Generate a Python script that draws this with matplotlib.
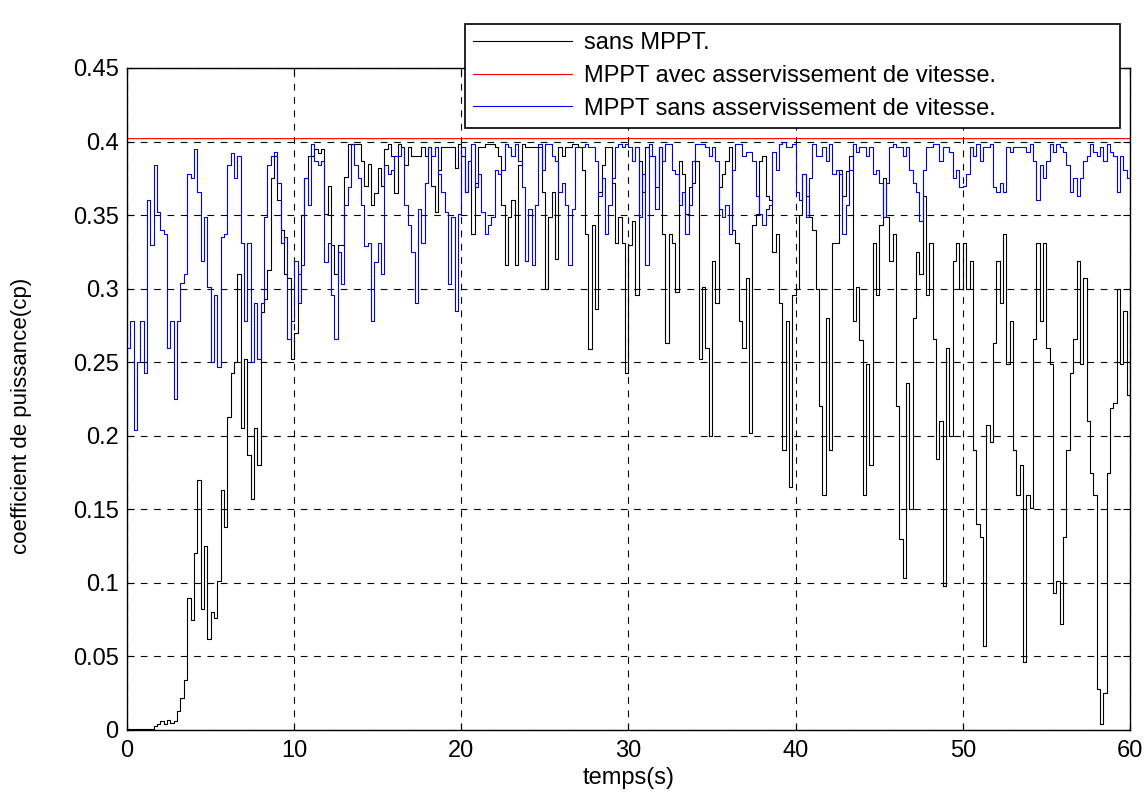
import numpy as np
import matplotlib
matplotlib.use("Agg")
import matplotlib.pyplot as plt
from matplotlib.ticker import FormatStrFormatter

# sampling step of the read-off values (s)
dt = 0.2

# cp without MPPT, one value every 0.2 s from t = 0 to 59.8 s
cp_sans_mppt = [
    # 0 - 10 s
    0.001, 0.001, 0.001, 0.001, 0.001, 0.001, 0.001, 0.001, 0.003, 0.004,
    0.006, 0.004, 0.007, 0.005, 0.006, 0.013, 0.022, 0.034, 0.090, 0.075,
    0.120, 0.170, 0.082, 0.125, 0.062, 0.080, 0.076, 0.101, 0.163, 0.138,
    0.213, 0.243, 0.250, 0.310, 0.205, 0.252, 0.187, 0.157, 0.205, 0.180,
    0.284, 0.293, 0.313, 0.375, 0.390, 0.360, 0.340, 0.310, 0.307, 0.252,
    # 10 - 20 s
    0.270, 0.310, 0.350, 0.375, 0.390, 0.390, 0.395, 0.392, 0.395, 0.351,
    0.370, 0.330, 0.310, 0.330, 0.330, 0.376, 0.398, 0.398, 0.398, 0.398,
    0.387, 0.370, 0.385, 0.357, 0.365, 0.382, 0.370, 0.395, 0.398, 0.390,
    0.365, 0.398, 0.396, 0.384, 0.396, 0.390, 0.390, 0.390, 0.396, 0.390,
    0.396, 0.370, 0.352, 0.381, 0.396, 0.396, 0.396, 0.396, 0.382, 0.398,
    # 20 - 30 s
    0.390, 0.366, 0.387, 0.337, 0.372, 0.396, 0.396, 0.398, 0.398, 0.398,
    0.396, 0.390, 0.357, 0.316, 0.349, 0.360, 0.316, 0.384, 0.398, 0.396,
    0.396, 0.396, 0.396, 0.396, 0.366, 0.300, 0.349, 0.366, 0.320, 0.396,
    0.390, 0.396, 0.396, 0.398, 0.398, 0.396, 0.381, 0.337, 0.259, 0.343,
    0.286, 0.366, 0.384, 0.396, 0.396, 0.372, 0.331, 0.349, 0.331, 0.243,
    # 30 - 40 s
    0.330, 0.346, 0.296, 0.387, 0.366, 0.396, 0.390, 0.390, 0.369, 0.396,
    0.337, 0.263, 0.337, 0.331, 0.298, 0.387, 0.378, 0.351, 0.369, 0.372,
    0.387, 0.252, 0.301, 0.260, 0.200, 0.319, 0.290, 0.369, 0.378, 0.387,
    0.396, 0.340, 0.331, 0.278, 0.260, 0.307, 0.202, 0.343, 0.351, 0.387,
    0.390, 0.363, 0.360, 0.325, 0.337, 0.290, 0.190, 0.278, 0.165, 0.296,
    # 40 - 50 s
    0.300, 0.350, 0.378, 0.363, 0.349, 0.340, 0.300, 0.220, 0.160, 0.280,
    0.190, 0.331, 0.331, 0.381, 0.363, 0.380, 0.390, 0.278, 0.301, 0.265,
    0.160, 0.249, 0.180, 0.331, 0.296, 0.343, 0.375, 0.349, 0.319, 0.337,
    0.220, 0.130, 0.103, 0.236, 0.150, 0.280, 0.325, 0.310, 0.363, 0.296,
    0.331, 0.266, 0.184, 0.210, 0.098, 0.260, 0.200, 0.319, 0.331, 0.300,
    # 50 - 60 s
    0.331, 0.300, 0.319, 0.190, 0.140, 0.131, 0.057, 0.207, 0.196, 0.263,
    0.319, 0.290, 0.337, 0.249, 0.278, 0.190, 0.160, 0.180, 0.046, 0.160,
    0.151, 0.266, 0.331, 0.278, 0.331, 0.260, 0.249, 0.093, 0.101, 0.072,
    0.131, 0.190, 0.243, 0.266, 0.319, 0.249, 0.307, 0.210, 0.175, 0.160,
    0.028, 0.004, 0.025, 0.175, 0.219, 0.222, 0.300, 0.249, 0.285, 0.228,
]

# cp with MPPT but without speed control, same sampling
cp_mppt_sans = [
    # 0 - 10 s
    0.260, 0.278, 0.204, 0.250, 0.278, 0.243, 0.360, 0.330, 0.384, 0.352,
    0.340, 0.337, 0.260, 0.278, 0.225, 0.278, 0.304, 0.310, 0.378, 0.375,
    0.395, 0.366, 0.319, 0.349, 0.301, 0.250, 0.296, 0.247, 0.335, 0.337,
    0.384, 0.392, 0.375, 0.390, 0.331, 0.278, 0.331, 0.250, 0.290, 0.252,
    0.290, 0.349, 0.384, 0.390, 0.393, 0.372, 0.331, 0.335, 0.266, 0.278,
    # 10 - 20 s
    0.319, 0.290, 0.316, 0.375, 0.357, 0.398, 0.387, 0.384, 0.387, 0.318,
    0.331, 0.296, 0.266, 0.325, 0.303, 0.357, 0.369, 0.398, 0.384, 0.375,
    0.357, 0.329, 0.331, 0.278, 0.318, 0.331, 0.310, 0.384, 0.378, 0.381,
    0.390, 0.390, 0.396, 0.357, 0.343, 0.325, 0.290, 0.354, 0.331, 0.372,
    0.396, 0.390, 0.396, 0.378, 0.366, 0.352, 0.303, 0.349, 0.285, 0.351,
    # 20 - 30 s
    0.396, 0.366, 0.387, 0.398, 0.369, 0.378, 0.352, 0.337, 0.343, 0.349,
    0.381, 0.378, 0.381, 0.398, 0.396, 0.390, 0.398, 0.387, 0.369, 0.319,
    0.354, 0.316, 0.357, 0.398, 0.381, 0.398, 0.398, 0.390, 0.387, 0.366,
    0.372, 0.357, 0.316, 0.354, 0.396, 0.396, 0.396, 0.398, 0.396, 0.396,
    0.387, 0.363, 0.375, 0.337, 0.357, 0.375, 0.396, 0.398, 0.396, 0.398,
    # 30 - 40 s
    0.396, 0.387, 0.396, 0.349, 0.378, 0.316, 0.398, 0.390, 0.354, 0.396,
    0.387, 0.398, 0.398, 0.381, 0.378, 0.357, 0.366, 0.337, 0.357, 0.387,
    0.398, 0.398, 0.398, 0.396, 0.390, 0.396, 0.387, 0.354, 0.349, 0.357,
    0.337, 0.381, 0.398, 0.398, 0.390, 0.393, 0.393, 0.387, 0.363, 0.351,
    0.343, 0.354, 0.357, 0.393, 0.381, 0.398, 0.400, 0.396, 0.396, 0.398,
    # 40 - 50 s
    0.366, 0.360, 0.378, 0.349, 0.375, 0.398, 0.390, 0.390, 0.396, 0.387,
    0.398, 0.378, 0.381, 0.378, 0.337, 0.357, 0.381, 0.398, 0.393, 0.396,
    0.396, 0.390, 0.396, 0.378, 0.381, 0.372, 0.349, 0.372, 0.396, 0.398,
    0.396, 0.396, 0.390, 0.396, 0.381, 0.372, 0.366, 0.346, 0.381, 0.396,
    0.396, 0.398, 0.398, 0.387, 0.396, 0.396, 0.393, 0.375, 0.381, 0.369,
    # 50 - 60 s
    0.370, 0.378, 0.396, 0.390, 0.398, 0.387, 0.396, 0.396, 0.398, 0.369,
    0.366, 0.372, 0.366, 0.396, 0.393, 0.396, 0.396, 0.396, 0.396, 0.393,
    0.398, 0.387, 0.360, 0.384, 0.375, 0.387, 0.398, 0.393, 0.398, 0.396,
    0.393, 0.384, 0.366, 0.375, 0.363, 0.375, 0.387, 0.390, 0.398, 0.393,
    0.390, 0.396, 0.387, 0.398, 0.393, 0.390, 0.366, 0.390, 0.381, 0.375,
]

# cp with MPPT and speed control: jumps to the optimum right away
t_mppt_avec = [0.0, 0.02, 60.0]
cp_mppt_avec = [0.296, 0.402, 0.402]

labels = [
    "sans MPPT.",
    "MPPT avec asservissement de vitesse.",
    "MPPT sans asservissement de vitesse.",
]

# time vectors (hold last value up to 60 s)
t1 = np.append(np.arange(len(cp_sans_mppt)) * dt, 60.0)
y1 = np.append(cp_sans_mppt, cp_sans_mppt[-1])
t3 = np.append(np.arange(len(cp_mppt_sans)) * dt, 60.0)
y3 = np.append(cp_mppt_sans, cp_mppt_sans[-1])

plt.rcParams["font.family"] = ["Liberation Sans", "DejaVu Sans"]

W, H = 1148, 798
fig = plt.figure(figsize=(W / 100, H / 100), dpi=100)
ax = fig.add_axes([127 / W, 1 - 730 / H, 1003 / W, 662 / H])

ax.step(t1, y1, where="post", color="black", lw=0.8, label=labels[0])
ax.plot(t_mppt_avec, cp_mppt_avec, color="red", lw=0.8, label=labels[1])
ax.step(t3, y3, where="post", color="blue", lw=0.8, label=labels[2])

ax.set_xlim(0, 60)
ax.set_ylim(0, 0.45)
ax.set_xticks(np.arange(0, 61, 10))
ax.set_yticks(np.arange(0, 0.451, 0.05))
ax.yaxis.set_major_formatter(FormatStrFormatter("%g"))
ax.tick_params(direction="in", top=True, right=True, labelsize=17, length=5)
ax.tick_params(axis="x", pad=7)
ax.tick_params(axis="y", pad=6)
ax.grid(True, color="black", linestyle=(0, (6, 6)), linewidth=0.8)
for s in ax.spines.values():
    s.set_linewidth(1.0)

ax.set_xlabel("temps(s)", fontsize=17, labelpad=4)
ax.set_ylabel("coefficient de puissance(cp)", fontsize=16, va="center")
ax.yaxis.set_label_coords(-0.105, 0.475)

leg = ax.legend(loc="lower left",
                bbox_to_anchor=(465 / W, 1 - 128 / H, 655 / W, 118 / H),
                bbox_transform=fig.transFigure, mode="expand", fontsize=17,
                fancybox=False, framealpha=1, edgecolor="black",
                handlelength=4.2, handletextpad=0.5, labelspacing=0.45,
                borderpad=0.35, borderaxespad=0)
leg.get_frame().set_linewidth(1.2)

fig.savefig("out.png", dpi=100)
